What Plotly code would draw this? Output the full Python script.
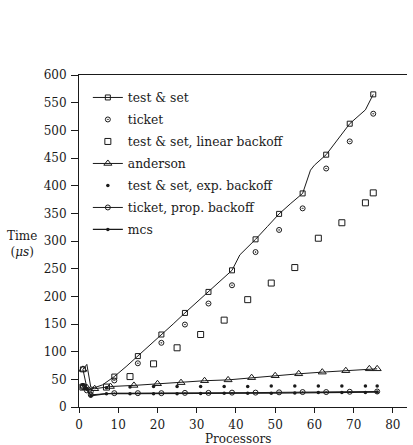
import plotly.graph_objects as go

# ---------------- data ----------------
# test & set: line through all measured points, squares on a subset
ts_x = [1, 2, 3, 4, 6, 9, 12, 15, 18, 21, 24, 27, 30, 33, 36, 39, 41, 45, 48, 51, 54, 57, 59, 60, 63, 66, 69, 73, 75]
ts_y = [68, 77, 36, 35, 40, 55, 73, 92, 111, 131, 150, 170, 189, 208, 227, 247, 275, 303, 326, 349, 368, 386, 428, 437, 456, 484, 512, 537, 565]
ts_marked = [1, 9, 15, 21, 27, 33, 39, 45, 51, 57, 63, 69, 75]

ticket_x = [1, 3, 9, 15, 21, 27, 33, 39, 45, 51, 57, 63, 69, 75]
ticket_y = [38, 28, 48, 79, 116, 149, 187, 220, 280, 320, 359, 431, 480, 530]

lin_x = [1, 7, 13, 19, 25, 31, 37, 43, 49, 55, 61, 67, 73, 75]
lin_y = [36, 36, 55, 78, 107, 131, 157, 194, 224, 252, 305, 333, 369, 387]

and_x = [1, 2, 4, 8, 14, 20, 26, 32, 38, 44, 50, 56, 62, 68, 74, 76]
and_y = [68, 35, 33, 37, 39, 42, 44, 47.5, 49, 53, 56.5, 60, 63, 65.6, 69, 69]

exp_x = [1, 7, 13, 19, 25, 31, 37, 43, 49, 55, 61, 67, 73, 76]
exp_y = [40, 35, 36, 37, 37, 37, 37, 37, 38, 38, 38, 38, 38, 38]

tprop_x = [1, 2, 3, 9, 15, 21, 27, 33, 39, 45, 51, 57, 63, 69, 76]
tprop_y = [36, 30, 22, 25, 25, 25, 25.5, 25.5, 26, 26, 26.5, 27, 27, 27.5, 28]

mcs_x = [1, 2, 3, 7, 13, 19, 25, 31, 37, 43, 49, 55, 61, 67, 73, 76]
mcs_y = [40, 33, 20, 24, 24, 24, 24, 24.5, 25, 25, 25, 25.5, 26, 26, 26, 27]

x_ticks = [0, 10, 20, 30, 40, 50, 60, 70, 80]
y_ticks = [0, 50, 100, 150, 200, 250, 300, 350, 400, 450, 500, 550, 600]

# ---------------- figure ----------------
FONT = "DejaVu Serif"
INK = "#1a1a1a"

ts_colors = [INK if x in ts_marked else "rgba(0,0,0,0)" for x in ts_x]

fig = go.Figure()
fig.add_trace(go.Scatter(
    x=ts_x, y=ts_y, name="test &amp; set", mode="lines+markers", legendgroup="g1",
    line=dict(color=INK, width=1),
    marker=dict(symbol="square-open", size=5, color=ts_colors, line=dict(width=1))))
fig.add_trace(go.Scatter(
    x=ticket_x, y=ticket_y, name="ticket", mode="markers", legendgroup="g2",
    marker=dict(symbol="circle-open-dot", size=5, color=INK, line=dict(width=1))))
fig.add_trace(go.Scatter(
    x=lin_x, y=lin_y, name="test &amp; set, linear backoff", mode="markers", legendgroup="g3",
    marker=dict(symbol="square-open", size=6, color=INK, line=dict(width=1))))
fig.add_trace(go.Scatter(
    x=and_x, y=and_y, name="anderson", mode="lines+markers", legendgroup="g4",
    line=dict(color=INK, width=1),
    marker=dict(symbol="triangle-up-open", size=7, color=INK, line=dict(width=1))))
fig.add_trace(go.Scatter(
    x=exp_x, y=exp_y, name="test &amp; set, exp. backoff", mode="markers", legendgroup="g5",
    marker=dict(symbol="circle", size=3.5, color=INK)))
fig.add_trace(go.Scatter(
    x=tprop_x, y=tprop_y, name="ticket, prop. backoff", mode="lines+markers", legendgroup="g6",
    line=dict(color=INK, width=1),
    marker=dict(symbol="circle-open-dot", size=5, color=INK, line=dict(width=1))))
fig.add_trace(go.Scatter(
    x=mcs_x, y=mcs_y, name="mcs", mode="lines+markers", legendgroup="g7",
    line=dict(color=INK, width=1.2),
    marker=dict(symbol="circle", size=3.5, color=INK)))

fig.update_layout(
    width=413, height=445,
    margin=dict(l=79, r=6, t=75, b=38),
    paper_bgcolor="white", plot_bgcolor="white",
    font=dict(family=FONT, size=12, color=INK),
    showlegend=True,
    legend=dict(x=0.027, y=0.976, xanchor="left", yanchor="top",
                bgcolor="rgba(0,0,0,0)", borderwidth=0, tracegroupgap=3,
                font=dict(family=FONT, size=12.3, color=INK)),
    xaxis=dict(range=[0, 83.6], tickvals=x_ticks, showgrid=False, zeroline=False,
               showline=True, linecolor=INK, linewidth=1, mirror=True,
               ticks="outside", ticklen=5, tickcolor=INK, tickwidth=1,
               ticklabelstandoff=2,
               tickfont=dict(family=FONT, size=12, color=INK)),
    yaxis=dict(range=[0, 600], tickvals=y_ticks, showgrid=False, zeroline=False,
               showline=True, linecolor=INK, linewidth=1,
               ticks="outside", ticklen=7, tickcolor=INK, tickwidth=1,
               ticklabelstandoff=2,
               tickfont=dict(family=FONT, size=12, color=INK)),
    annotations=[
        dict(text="Time<br>(<i>μs</i>)", xref="paper", yref="paper",
             x=-0.174, y=0.49, xanchor="center", yanchor="middle",
             showarrow=False, font=dict(family=FONT, size=12, color=INK)),
        dict(text="Processors", xref="paper", yref="paper",
             x=0.485, y=-0.097, xanchor="center", yanchor="middle",
             showarrow=False, font=dict(family=FONT, size=12, color=INK)),
    ],
)

fig.write_html("out.html", config={"displayModeBar": False},
               post_script="document.body.style.margin='0';document.body.style.overflow='hidden';")
